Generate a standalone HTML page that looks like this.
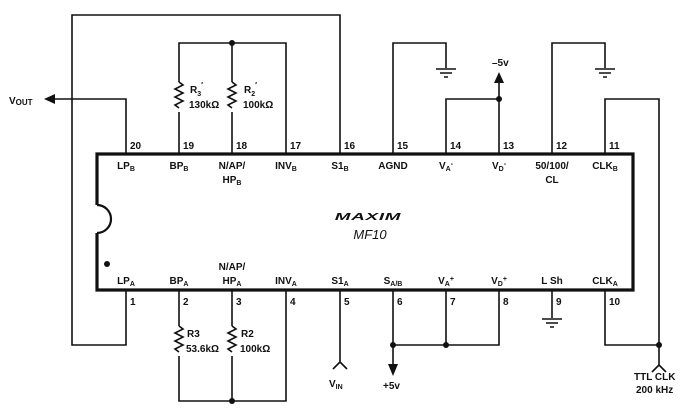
<!DOCTYPE html>
<html><head><style>
html,body{margin:0;padding:0;background:#fff;}
svg{display:block;}
text{font-family:"Liberation Sans",sans-serif;font-weight:bold;fill:#111;}
</style></head><body>
<svg width="700" height="418" viewBox="0 0 700 418" xmlns="http://www.w3.org/2000/svg">
<g stroke="#111" stroke-width="1.6" fill="none">
<path d="M97,205 L97,154 L633,154 L633,290 L97,290 L97,233" stroke-width="3.2"/>
<path d="M97,205 A14,14 0 0 1 97,233" stroke-width="2.2"/>
<path d="M340,154 V15 H72 V345 H126 V290"/>
<path d="M126,154 V99 H52"/>
<path d="M179,154 V43 H286 V154"/>
<path d="M232,154 V43"/>
<path d="M393,154 V43 H446 V68"/>
<path d="M436,69 H456 M440,73 H452 M444,77 H448"/>
<path d="M446,154 V99 H499 M499,154 V80"/>
<path d="M552,154 V43 H605 V68"/>
<path d="M595,69 H615 M599,73 H611 M603,77 H607"/>
<path d="M605,154 V99 H659 V365"/>
<path d="M605,290 V345 H659"/>
<path d="M659,365 L652,372 M659,365 L666,372"/>
<path d="M179,290 V401 H286 V290"/>
<path d="M232,290 V401"/>
<path d="M340,290 V362 L333,369 M340,362 L347,369"/>
<path d="M393,290 V368 M446,290 V345 M499,290 V345 H393"/>
<path d="M552,290 V318"/>
<path d="M542,319 H562 M546,323 H558 M550,327 H554"/>
</g>
<g fill="#fff" stroke="none">
<rect x="174" y="82" width="10" height="30"/><rect x="227" y="82" width="10" height="30"/>
<rect x="174" y="326" width="10" height="30"/><rect x="227" y="326" width="10" height="30"/>
</g>
<g stroke="#111" stroke-width="1.6" fill="none">
<path d="M179,82 l4,3 l-8,4 l8,4 l-8,4 l8,4 l-8,4 l4,3"/>
<path d="M232,82 l4,3 l-8,4 l8,4 l-8,4 l8,4 l-8,4 l4,3"/>
<path d="M179,326 l4,3 l-8,4 l8,4 l-8,4 l8,4 l-8,4 l4,3"/>
<path d="M232,326 l4,3 l-8,4 l8,4 l-8,4 l8,4 l-8,4 l4,3"/>
</g>
<g fill="#111">
<polygon points="44,99 55,94 55,104"/>
<polygon points="499,72 494,83 504,83"/>
<polygon points="393,376 388,364 398,364"/>
<circle cx="232" cy="43" r="3"/><circle cx="499" cy="99" r="3"/>
<circle cx="232" cy="401" r="3"/><circle cx="393" cy="345" r="3"/><circle cx="446" cy="345" r="3"/>
<circle cx="659" cy="345" r="3"/><circle cx="107" cy="264" r="3"/>
</g>
<g font-size="10">
<text x="9" y="104" font-size="10">V<tspan font-size="8" dy="1">OUT</tspan></text>
<text x="190" y="93">R<tspan font-size="7" dy="3">3</tspan><tspan dy="-8" font-size="8">′</tspan></text>
<text x="189" y="108">130kΩ</text>
<text x="244" y="93">R<tspan font-size="7" dy="3">2</tspan><tspan dy="-8" font-size="8">′</tspan></text>
<text x="243" y="108">100kΩ</text>
<text x="187" y="337">R3</text>
<text x="186" y="352">53.6kΩ</text>
<text x="241" y="337">R2</text>
<text x="240" y="352">100kΩ</text>
<text x="492" y="66">–5v</text>
<text x="383" y="389">+5v</text>
<text x="329" y="387">V<tspan font-size="7" dy="2">IN</tspan></text>
<text x="634" y="380">TTL CLK</text>
<text x="636" y="393">200 kHz</text>
<text x="130" y="149">20</text><text x="183" y="149">19</text><text x="236" y="149">18</text><text x="290" y="149">17</text><text x="344" y="149">16</text>
<text x="397" y="149">15</text><text x="450" y="149">14</text><text x="503" y="149">13</text><text x="556" y="149">12</text><text x="609" y="149">11</text>
<text x="130" y="305">1</text><text x="183" y="305">2</text><text x="236" y="305">3</text><text x="290" y="305">4</text><text x="344" y="305">5</text>
<text x="397" y="305">6</text><text x="450" y="305">7</text><text x="503" y="305">8</text><text x="556" y="305">9</text><text x="609" y="305">10</text>
<text x="126" y="169" text-anchor="middle">LP<tspan font-size="7" dy="2">B</tspan></text>
<text x="179" y="169" text-anchor="middle">BP<tspan font-size="7" dy="2">B</tspan></text>
<text x="232" y="169" text-anchor="middle">N/AP/</text>
<text x="232" y="183" text-anchor="middle">HP<tspan font-size="7" dy="2">B</tspan></text>
<text x="286" y="169" text-anchor="middle">INV<tspan font-size="7" dy="2">B</tspan></text>
<text x="340" y="169" text-anchor="middle">S1<tspan font-size="7" dy="2">B</tspan></text>
<text x="393" y="169" text-anchor="middle">AGND</text>
<text x="446" y="169" text-anchor="middle">V<tspan font-size="7" dy="2">A</tspan><tspan font-size="7" dy="-5">-</tspan></text>
<text x="499" y="169" text-anchor="middle">V<tspan font-size="7" dy="2">D</tspan><tspan font-size="7" dy="-5">-</tspan></text>
<text x="552" y="169" text-anchor="middle">50/100/</text>
<text x="552" y="183" text-anchor="middle">CL</text>
<text x="605" y="169" text-anchor="middle">CLK<tspan font-size="7" dy="2">B</tspan></text>
<text x="126" y="284" text-anchor="middle">LP<tspan font-size="7" dy="2">A</tspan></text>
<text x="179" y="284" text-anchor="middle">BP<tspan font-size="7" dy="2">A</tspan></text>
<text x="232" y="270" text-anchor="middle">N/AP/</text>
<text x="232" y="284" text-anchor="middle">HP<tspan font-size="7" dy="2">A</tspan></text>
<text x="286" y="284" text-anchor="middle">INV<tspan font-size="7" dy="2">A</tspan></text>
<text x="340" y="284" text-anchor="middle">S1<tspan font-size="7" dy="2">A</tspan></text>
<text x="393" y="284" text-anchor="middle">S<tspan font-size="7" dy="2">A/B</tspan></text>
<text x="446" y="284" text-anchor="middle">V<tspan font-size="7" dy="2">A</tspan><tspan font-size="7" dy="-5">+</tspan></text>
<text x="499" y="284" text-anchor="middle">V<tspan font-size="7" dy="2">D</tspan><tspan font-size="7" dy="-5">+</tspan></text>
<text x="552" y="284" text-anchor="middle">L Sh</text>
<text x="605" y="284" text-anchor="middle">CLK<tspan font-size="7" dy="2">A</tspan></text>
</g>
<g transform="translate(368,220) scale(1.45,0.75)">
<text x="0" y="0" text-anchor="middle" font-size="13" font-style="italic" style="font-weight:900" letter-spacing="0.5">MAXIM</text>
</g>
<text x="370" y="239" text-anchor="middle" font-size="13" font-style="italic" style="font-weight:normal">MF10</text>
</svg>
</body></html>
